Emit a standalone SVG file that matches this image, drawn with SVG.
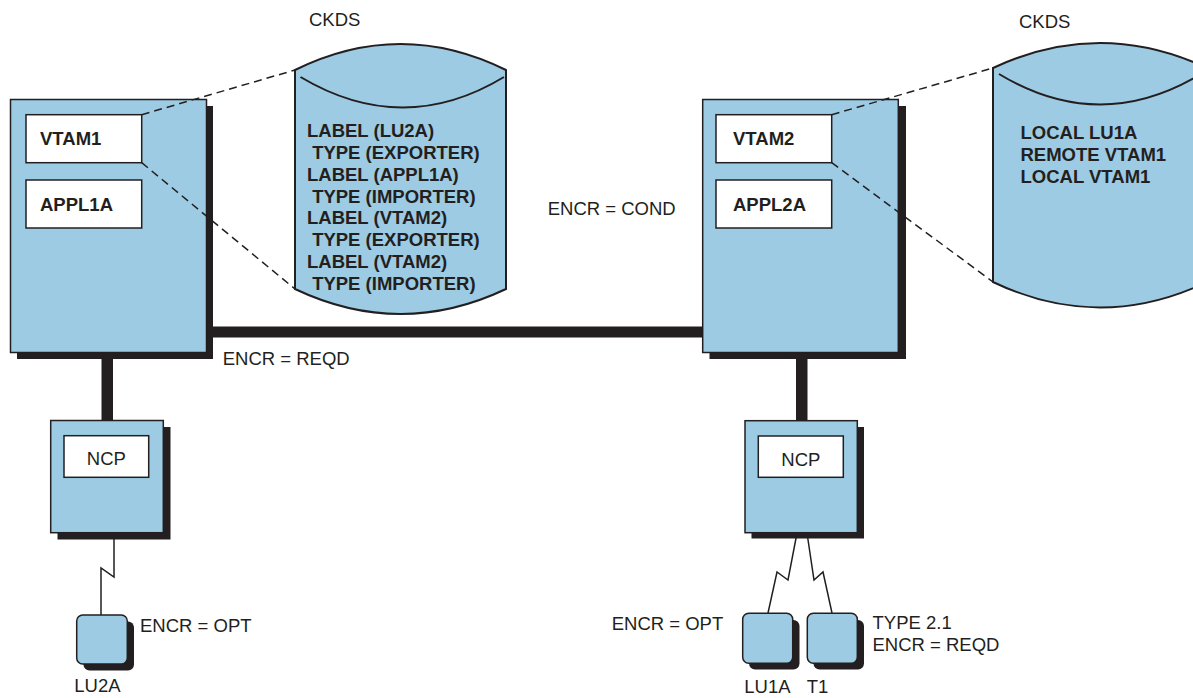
<svg xmlns="http://www.w3.org/2000/svg" width="1193" height="698" viewBox="0 0 1193 698">
<style>
.shadow{fill:#231f20}
.box{fill:#9ccbe3;stroke:#231f20;stroke-width:1.5}
.inner{fill:#ffffff;stroke:#231f20;stroke-width:1.5}
.cyl{fill:#9ccbe3;stroke:#231f20;stroke-width:2}
.arc{fill:none;stroke:#231f20;stroke-width:2}
.thick{fill:#231f20}
.dash{fill:none;stroke:#231f20;stroke-width:1.5;stroke-dasharray:8 5}
.wire{fill:none;stroke:#231f20;stroke-width:1.5;stroke-linejoin:miter}
.t{font-family:"Liberation Sans",Arial,sans-serif;font-size:18.5px;fill:#231f20}
.b{font-family:"Liberation Sans",Arial,sans-serif;font-size:18.5px;font-weight:bold;fill:#231f20}
</style>
<rect width="1193" height="698" fill="#ffffff"/>

<g id="connectors">
  <rect class="thick" x="207" y="326.5" width="496" height="11"/>
  <rect class="thick" x="101.5" y="355" width="11.5" height="66"/>
  <rect class="thick" x="796" y="355" width="11.5" height="66"/>
  <polyline class="wire" points="114,533 114,577 101,568 101,615"/>
  <polyline class="wire" points="797,533 788,580 777,572 768,613"/>
  <polyline class="wire" points="807,533 814,580 823,572 832,613"/>
</g>

<g id="host1">
  <rect class="shadow" x="17" y="106" width="196" height="253"/>
  <rect class="box" x="10.5" y="99.5" width="196" height="253"/>
  <g id="vtam1">
    <rect class="inner" x="26" y="114.7" width="115.7" height="48"/>
    <text class="b" x="40" y="145">VTAM1</text>
  </g>
  <g id="appl1a">
    <rect class="inner" x="26" y="180" width="115.7" height="48"/>
    <text class="b" x="40" y="211">APPL1A</text>
  </g>
</g>

<g id="host2">
  <rect class="shadow" x="709.5" y="106" width="196.5" height="253"/>
  <rect class="box" x="702.7" y="99.5" width="195.6" height="253"/>
  <g id="vtam2">
    <rect class="inner" x="716" y="114.7" width="115.7" height="48"/>
    <text class="b" x="733" y="145">VTAM2</text>
  </g>
  <g id="appl2a">
    <rect class="inner" x="716" y="180" width="115.7" height="48"/>
    <text class="b" x="733" y="211">APPL2A</text>
  </g>
</g>

<g id="dashes">
  <line class="dash" x1="141.7" y1="114.7" x2="295" y2="70"/>
  <line class="dash" x1="141.7" y1="162.7" x2="295" y2="289"/>
  <line class="dash" x1="831.7" y1="114.7" x2="993" y2="68"/>
  <line class="dash" x1="831.7" y1="162.7" x2="993" y2="282"/>
</g>

<g id="ckds1">
  <text class="t" x="309" y="26">CKDS</text>
  <path class="cyl" d="M295,70 Q400.5,18 506,70 L506,289 Q400.5,339 295,289 Z"/>
  <path class="arc" d="M300.5,77 Q403,138 504,77"/>
  <text class="b" x="307" y="137">LABEL (LU2A)</text>
  <text class="b" x="307" y="159" xml:space="preserve"> TYPE (EXPORTER)</text>
  <text class="b" x="307" y="181">LABEL (APPL1A)</text>
  <text class="b" x="307" y="203" xml:space="preserve"> TYPE (IMPORTER)</text>
  <text class="b" x="307" y="224">LABEL (VTAM2)</text>
  <text class="b" x="307" y="246" xml:space="preserve"> TYPE (EXPORTER)</text>
  <text class="b" x="307" y="268">LABEL (VTAM2)</text>
  <text class="b" x="307" y="290" xml:space="preserve"> TYPE (IMPORTER)</text>
</g>

<g id="ckds2">
  <text class="t" x="1019" y="28">CKDS</text>
  <path class="cyl" d="M993,68 Q1100,18 1207,68 L1207,282 Q1100,333 993,282 Z"/>
  <path class="arc" d="M999,74 Q1100,135 1201,74"/>
  <text class="b" x="1020.5" y="139">LOCAL LU1A</text>
  <text class="b" x="1020.5" y="161">REMOTE VTAM1</text>
  <text class="b" x="1020.5" y="183">LOCAL VTAM1</text>
</g>

<g id="ncp1">
  <rect class="shadow" x="57.5" y="427" width="113" height="112.5"/>
  <rect class="box" x="50.7" y="420.5" width="112.6" height="112.2"/>
  <rect class="inner" x="64" y="435.7" width="84.7" height="41.6"/>
  <text class="t" x="106.3" y="465" text-anchor="middle">NCP</text>
</g>

<g id="ncp2">
  <rect class="shadow" x="751.5" y="427" width="112.5" height="111.5"/>
  <rect class="box" x="745" y="420.7" width="112.3" height="112"/>
  <rect class="inner" x="758.3" y="436" width="85" height="41.3"/>
  <text class="t" x="800.8" y="465.5" text-anchor="middle">NCP</text>
</g>

<g id="lu2a">
  <rect class="shadow" x="83.5" y="621.5" width="50.5" height="49" rx="6"/>
  <rect class="box" x="76.7" y="615" width="50.6" height="49" rx="6"/>
  <text class="t" x="74.3" y="692">LU2A</text>
</g>

<g id="lu1a">
  <rect class="shadow" x="749" y="620" width="50.5" height="49.5" rx="6"/>
  <rect class="box" x="742.7" y="613.3" width="50" height="50" rx="6"/>
  <text class="t" x="744.3" y="693">LU1A</text>
</g>

<g id="t1">
  <rect class="shadow" x="813.5" y="620" width="50.5" height="49.5" rx="6"/>
  <rect class="box" x="807.3" y="613.3" width="50" height="50" rx="6"/>
  <text class="t" x="806.7" y="693">T1</text>
</g>

<g id="labels">
  <text class="t" x="547.7" y="215">ENCR = COND</text>
  <text class="t" x="222.7" y="365">ENCR = REQD</text>
  <text class="t" x="140" y="631.5">ENCR = OPT</text>
  <text class="t" x="611.7" y="629.5">ENCR = OPT</text>
  <text class="t" x="872.5" y="629">TYPE 2.1</text>
  <text class="t" x="872.5" y="650.5">ENCR = REQD</text>
</g>
</svg>
